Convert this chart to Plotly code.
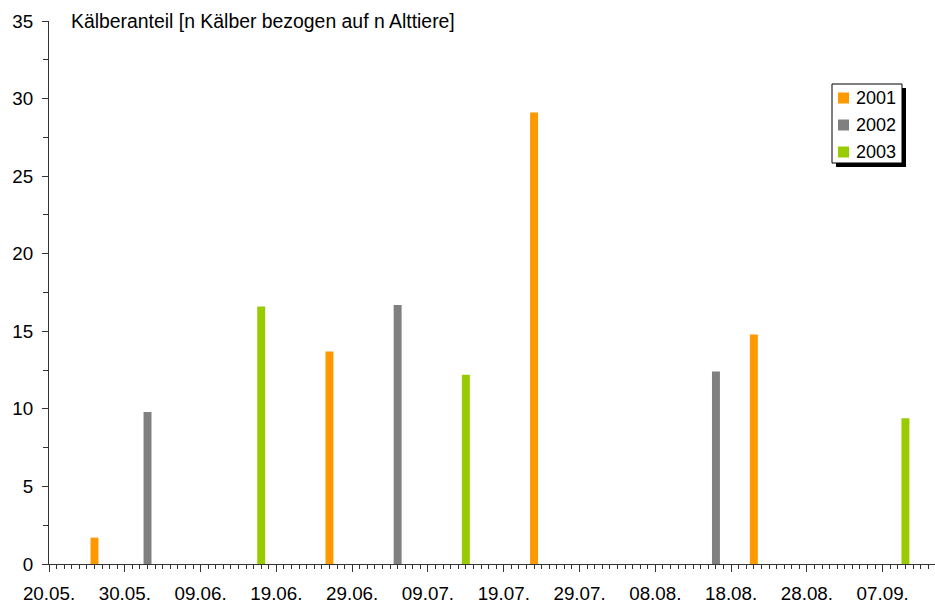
import plotly.graph_objects as go
from datetime import datetime, timedelta

# ---- data ----
dates_2001 = ["26.05.", "26.06.", "23.07.", "21.08."]
values_2001 = [1.7, 13.7, 29.1, 14.8]
dates_2002 = ["02.06.", "05.07.", "16.08."]
values_2002 = [9.8, 16.7, 12.4]
dates_2003 = ["17.06.", "14.07.", "10.09."]
values_2003 = [16.6, 12.2, 9.4]
series_names = ["2001", "2002", "2003"]
colors = ["#FF9900", "#808080", "#99CC00"]
y_title = "Kälberanteil [n Kälber bezogen auf n Alttiere]"

BASE_YEAR = 2001


def to_date(s):
    d, m = s.strip(".").split(".")
    return datetime(BASE_YEAR, int(m), int(d))


DAY_MS = 86400000
FONT = "Liberation Sans, Arial, sans-serif"

W, H = 935, 603
ML, MR, MT, MB = 49, 0, 21, 39
PW = W - ML - MR
PH = H - MT - MB


def px_x(px):
    return (px - ML) / PW


def px_y(py):
    return (H - MB - py) / PH


fig = go.Figure()
for name, ds, vs, c in zip(series_names,
                           [dates_2001, dates_2002, dates_2003],
                           [values_2001, values_2002, values_2003],
                           colors):
    fig.add_trace(go.Bar(
        x=[to_date(d) for d in ds], y=vs, name=name,
        marker=dict(color=c, line=dict(width=0)),
        width=1.05 * DAY_MS, showlegend=False,
    ))

start = datetime(BASE_YEAR, 5, 20)
end = start + timedelta(days=116.9)

# legend (box with shadow, swatches, labels)
shapes = []
annotations = []
shapes.append(dict(type="rect", xref="paper", yref="paper",
                   x0=px_x(836), x1=px_x(906), y0=px_y(167), y1=px_y(88),
                   fillcolor="black", line=dict(width=0), layer="above"))
shapes.append(dict(type="rect", xref="paper", yref="paper",
                   x0=px_x(832), x1=px_x(902), y0=px_y(163), y1=px_y(84),
                   fillcolor="white", line=dict(color="black", width=1),
                   layer="above"))
for i, (name, c) in enumerate(zip(series_names, colors)):
    cy = 98 + 27 * i
    shapes.append(dict(type="rect", xref="paper", yref="paper",
                       x0=px_x(838), x1=px_x(849),
                       y0=px_y(cy + 5.5), y1=px_y(cy - 5.5),
                       fillcolor=c, line=dict(width=0), layer="above"))
    annotations.append(dict(text=name, xref="paper", yref="paper",
                            x=px_x(854), y=px_y(cy), xanchor="left",
                            yanchor="middle", showarrow=False,
                            font=dict(family=FONT, size=18, color="black")))

annotations.append(dict(
    text=y_title, xref="paper", yref="paper",
    x=px_x(69), y=1.0, xanchor="left", yanchor="middle",
    showarrow=False, font=dict(family=FONT, size=19.4, color="black"),
))

fig.update_layout(
    width=W, height=H,
    margin=dict(l=ML, r=MR, t=MT, b=MB, autoexpand=False),
    paper_bgcolor="white", plot_bgcolor="white",
    barmode="overlay",
    font=dict(family=FONT, size=18.8, color="black"),
    showlegend=False,
    xaxis=dict(
        type="date", range=[start, end], automargin=False,
        tick0=start, dtick=10 * DAY_MS, tickformat="%d.%m.",
        ticks="outside", ticklen=7, tickwidth=1, tickcolor="#333",
        showline=True, linecolor="#333", linewidth=1,
        showgrid=False, zeroline=False,
        ticklabelstandoff=5,
        minor=dict(dtick=DAY_MS, tick0=start, ticks="outside", ticklen=4,
                   tickwidth=1, tickcolor="#333", showgrid=False),
    ),
    yaxis=dict(
        range=[0, 35], dtick=5, tick0=0, automargin=False,
        ticks="outside", ticklen=6, tickwidth=1, tickcolor="#333",
        showline=True, linecolor="#333", linewidth=1,
        showgrid=False, zeroline=False,
        ticklabelstandoff=5,
        minor=dict(dtick=2.5, ticks="outside", ticklen=5, tickwidth=1,
                   tickcolor="#333", showgrid=False),
    ),
    shapes=shapes,
    annotations=annotations,
)

fig.write_html("out.html",
               config={"displayModeBar": False},
               post_script="document.body.style.margin='0';"
                           "document.body.style.overflow='hidden';")
